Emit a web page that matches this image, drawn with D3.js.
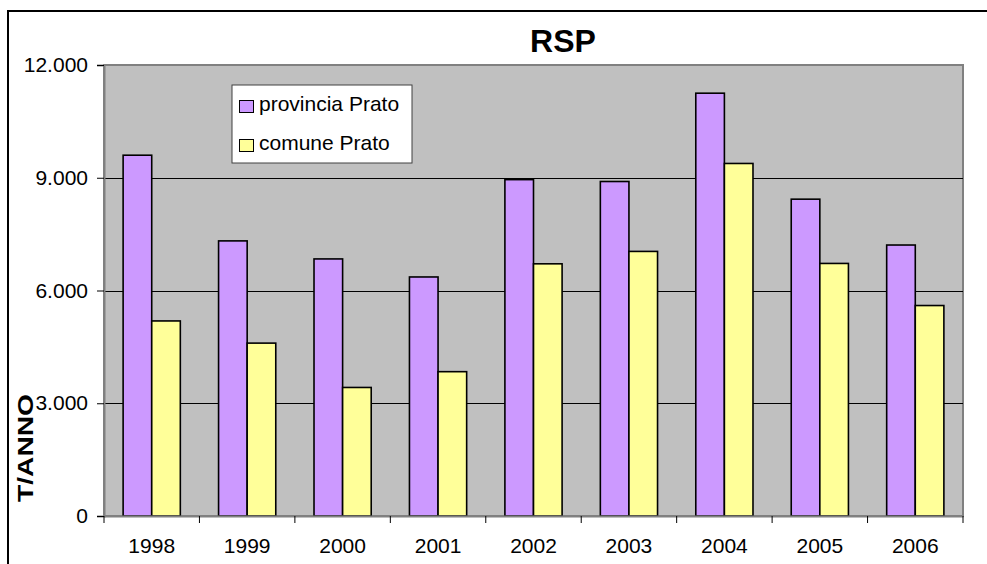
<!DOCTYPE html>
<html>
<head>
<meta charset="utf-8">
<script src="https://cdn.jsdelivr.net/npm/d3@7"></script>
<style>
  html, body { margin: 0; padding: 0; background: #fff; }
  svg { display: block; font-family: "Liberation Sans", Arial, sans-serif; }
</style>
</head>
<body>
<svg id="chart" width="987" height="564"></svg>
<script>
const years = ["1998", "1999", "2000", "2001", "2002", "2003", "2004", "2005", "2006"];
const provinciaPrato = [9600, 7320, 6840, 6360, 8950, 8900, 11250, 8430, 7210];
const comunePrato = [5190, 4600, 3420, 3840, 6710, 7040, 9380, 6720, 5600];
const seriesNames = ["provincia Prato", "comune Prato"];
const seriesColors = ["#CC99FF", "#FFFF99"];
const yTicks = [0, 3000, 6000, 9000, 12000];
const yTickLabels = ["0", "3.000", "6.000", "9.000", "12.000"];

const svg = d3.select("#chart");
const plot = { left: 104, top: 65, right: 963, bottom: 516 };
const FONT = "'Liberation Sans', Arial, sans-serif";

// outer chart border
svg.append("rect")
  .attr("x", 8).attr("y", 11).attr("width", 1000).attr("height", 600)
  .attr("fill", "#fff").attr("stroke", "#000").attr("stroke-width", 2);

const x0 = d3.scaleBand().domain(years).range([plot.left, plot.right]).paddingInner(0).paddingOuter(0);
const barW = 28.6;
const y = d3.scaleLinear().domain([0, 12000]).range([plot.bottom, plot.top]);

// plot background
svg.append("rect")
  .attr("x", plot.left).attr("y", plot.top)
  .attr("width", plot.right - plot.left).attr("height", plot.bottom - plot.top)
  .attr("fill", "#C0C0C0").attr("stroke", "#808080").attr("stroke-width", 2);

// gridlines
svg.append("g").selectAll("line").data(yTicks.filter(d => d > 0 && d < 12000)).join("line")
  .attr("x1", plot.left).attr("x2", plot.right)
  .attr("y1", d => Math.round(y(d)) + 0.5).attr("y2", d => Math.round(y(d)) + 0.5)
  .attr("stroke", "#000").attr("stroke-width", 1);

// bars
const series = [provinciaPrato, comunePrato];
series.forEach((vals, si) => {
  svg.append("g").selectAll("rect").data(vals).join("rect")
    .attr("x", (d, i) => x0(years[i]) + x0.bandwidth() / 2 - barW + si * barW)
    .attr("y", d => y(d))
    .attr("width", barW)
    .attr("height", d => plot.bottom - y(d))
    .attr("fill", seriesColors[si])
    .attr("stroke", "#000").attr("stroke-width", 1.6);
});

// y axis
const yAxis = d3.axisLeft(y).tickValues(yTicks)
  .tickFormat((d, i) => yTickLabels[i]).tickSize(7).tickPadding(9);
const gy = svg.append("g").attr("transform", `translate(${plot.left},0)`).call(yAxis);
gy.select(".domain").attr("stroke", "#808080").attr("stroke-width", 2);
gy.selectAll(".tick line").attr("stroke", "#000");
gy.selectAll(".tick text").attr("font-size", 21).attr("fill", "#000").attr("font-family", FONT);

// x axis
const xAxis = d3.axisBottom(x0).tickSize(0).tickPadding(22);
const gx = svg.append("g").attr("transform", `translate(0,${plot.bottom})`).call(xAxis);
gx.select(".domain").attr("stroke", "#808080").attr("stroke-width", 2);
gx.selectAll(".tick text").attr("font-size", 21).attr("fill", "#000").attr("font-family", FONT);
// category boundary ticks
const boundaries = years.map(yr => x0(yr)).concat([plot.right]);
gx.append("g").selectAll("line").data(boundaries).join("line")
  .attr("x1", d => d).attr("x2", d => d).attr("y1", 0).attr("y2", 7)
  .attr("stroke", "#000").attr("stroke-width", 1);

// title
svg.append("text").attr("x", 563).attr("y", 52).attr("text-anchor", "middle")
  .attr("font-size", 32).attr("font-weight", "bold").attr("font-family", FONT).text("RSP");

// y axis title
svg.append("text").attr("transform", "translate(33,448) rotate(-90)")
  .attr("text-anchor", "middle").attr("font-size", 22).attr("font-weight", "bold")
  .attr("font-family", FONT)
  .attr("textLength", 108).attr("lengthAdjust", "spacingAndGlyphs")
  .text("T/ANNO");

// legend
const lg = svg.append("g");
lg.append("rect").attr("x", 232).attr("y", 85).attr("width", 180).attr("height", 78)
  .attr("fill", "#fff").attr("stroke", "#404040").attr("stroke-width", 1);
seriesNames.forEach((name, i) => {
  const base = 111 + i * 39;
  lg.append("rect").attr("x", 239.5).attr("y", base - 10.5).attr("width", 14).attr("height", 12)
    .attr("fill", seriesColors[i]).attr("stroke", "#000").attr("stroke-width", 1);
  lg.append("text").attr("x", 259).attr("y", base).attr("font-size", 21)
    .attr("font-family", FONT).text(name);
});
</script>
</body>
</html>
